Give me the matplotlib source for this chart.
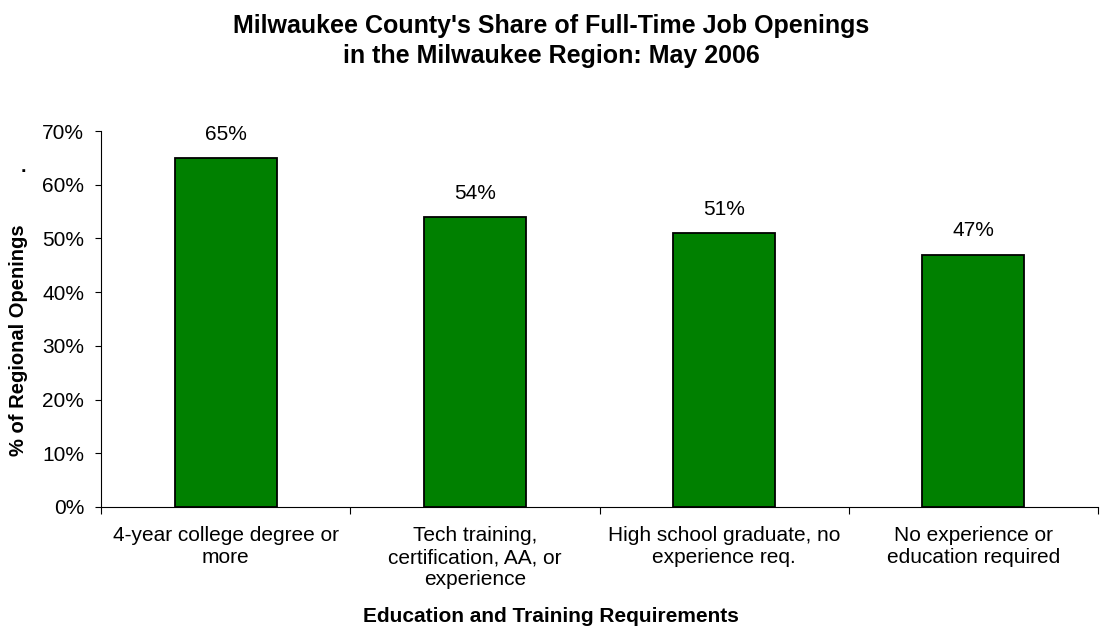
import matplotlib.pyplot as plt
import numpy as np

plt.rcParams['font.family'] = ['Liberation Sans', 'DejaVu Sans']

categories = ['4-year college degree or\nmore',
              'Tech training,\ncertification, AA, or\nexperience',
              'High school graduate, no\nexperience req.',
              'No experience or\neducation required']
shares = [65, 54, 51, 47]
y_ticks = [0, 10, 20, 30, 40, 50, 60, 70]

W, H = 1102, 640
fig = plt.figure(figsize=(W / 100, H / 100), dpi=100)
ax = fig.add_axes([101 / W, 1 - 507 / H, 997 / W, 376 / H])

x = np.arange(len(categories))
ax.bar(x, shares, width=0.41, color='#008000', edgecolor='black', linewidth=1.3, zorder=3)

for xi, v in zip(x, shares):
    ax.annotate(f'{v}%', (xi, v), xytext=(0, 17), textcoords='offset points',
                ha='center', va='center', fontsize=15)

ax.set_xlim(-0.5, len(categories) - 0.5)
ax.set_ylim(0, 70)
ax.set_yticks(y_ticks)
ax.set_yticklabels([f'{t}%' for t in y_ticks], fontsize=15)

# tick marks between categories, labels centered under the bars
ax.set_xticks(np.arange(len(categories) + 1) - 0.5)
ax.set_xticklabels([])
ax.set_xticks(x, minor=True)
ax.set_xticklabels(categories, minor=True, fontsize=15, linespacing=1.2)
ax.tick_params(axis='x', which='minor', length=0, pad=14)
ax.tick_params(axis='x', which='major', length=5, direction='out')
ax.tick_params(axis='y', length=4, direction='out', pad=8)

for s in ['top', 'right']:
    ax.spines[s].set_visible(False)

fig.text(551 / W, 1 - 33 / H, "Milwaukee County's Share of Full-Time Job Openings",
         ha='center', va='baseline', fontsize=18, fontweight='bold')
fig.text(551 / W, 1 - 63 / H, "in the Milwaukee Region: May 2006",
         ha='center', va='baseline', fontsize=18, fontweight='bold')
fig.text(551 / W, 1 - 622 / H, 'Education and Training Requirements',
         ha='center', va='baseline', fontsize=15, fontweight='bold')
fig.text(19 / W, 1 - 340 / H, '% of Regional Openings', rotation=90,
         ha='center', va='center', fontsize=14.5, fontweight='bold')
fig.text(23 / W, 1 - 167 / H, '.', ha='center', va='center', fontsize=14, fontweight='bold')

fig.savefig('out.png', dpi=100)
